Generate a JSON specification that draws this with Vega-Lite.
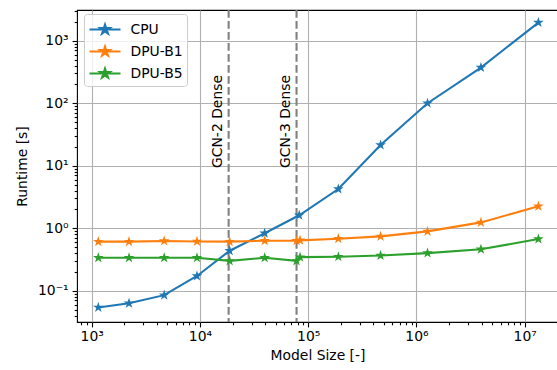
{
  "$schema": "https://vega.github.io/schema/vega-lite/v6.json",
  "width": 481,
  "height": 312,
  "autosize": {"type": "none"},
  "padding": {"left": 77, "top": 10, "right": 0, "bottom": 48},
  "background": "white",
  "config": {
    "font": "DejaVu Sans",
    "view": {"stroke": "black", "strokeWidth": 1.1},
    "axis": {
      "labelFont": "DejaVu Sans",
      "labelFontSize": 13.9,
      "labelColor": "black",
      "titleFont": "DejaVu Sans",
      "titleFontSize": 13.9,
      "titleFontWeight": "normal",
      "titleColor": "black",
      "domain": false,
      "tickColor": "black",
      "tickWidth": 1.1,
      "tickSize": 4.9,
      "gridColor": "#b0b0b0",
      "gridWidth": 1.1
    }
  },
  "datasets": {
    "runs": [
      {"device": "CPU", "model": 1150, "rt": 0.054},
      {"device": "CPU", "model": 2210, "rt": 0.063},
      {"device": "CPU", "model": 4670, "rt": 0.085},
      {"device": "CPU", "model": 9380, "rt": 0.172},
      {"device": "CPU", "model": 18800, "rt": 0.436},
      {"device": "CPU", "model": 39600, "rt": 0.83},
      {"device": "CPU", "model": 82600, "rt": 1.61},
      {"device": "CPU", "model": 189700, "rt": 4.24},
      {"device": "CPU", "model": 466000, "rt": 21.4},
      {"device": "CPU", "model": 1265000, "rt": 100},
      {"device": "CPU", "model": 3940000, "rt": 372},
      {"device": "CPU", "model": 13370000, "rt": 1950},
      {"device": "DPU-B1", "model": 1150, "rt": 0.61},
      {"device": "DPU-B1", "model": 2210, "rt": 0.61},
      {"device": "DPU-B1", "model": 4670, "rt": 0.625},
      {"device": "DPU-B1", "model": 9380, "rt": 0.615},
      {"device": "DPU-B1", "model": 18800, "rt": 0.61},
      {"device": "DPU-B1", "model": 39600, "rt": 0.63},
      {"device": "DPU-B1", "model": 78000, "rt": 0.63},
      {"device": "DPU-B1", "model": 84000, "rt": 0.64},
      {"device": "DPU-B1", "model": 189700, "rt": 0.68},
      {"device": "DPU-B1", "model": 466000, "rt": 0.74},
      {"device": "DPU-B1", "model": 1265000, "rt": 0.89},
      {"device": "DPU-B1", "model": 3940000, "rt": 1.24},
      {"device": "DPU-B1", "model": 13370000, "rt": 2.24},
      {"device": "DPU-B5", "model": 1150, "rt": 0.337},
      {"device": "DPU-B5", "model": 2210, "rt": 0.337},
      {"device": "DPU-B5", "model": 4670, "rt": 0.337},
      {"device": "DPU-B5", "model": 9380, "rt": 0.337},
      {"device": "DPU-B5", "model": 18800, "rt": 0.30},
      {"device": "DPU-B5", "model": 39600, "rt": 0.337},
      {"device": "DPU-B5", "model": 78000, "rt": 0.30},
      {"device": "DPU-B5", "model": 84000, "rt": 0.345},
      {"device": "DPU-B5", "model": 189700, "rt": 0.35},
      {"device": "DPU-B5", "model": 466000, "rt": 0.365},
      {"device": "DPU-B5", "model": 1265000, "rt": 0.40},
      {"device": "DPU-B5", "model": 3940000, "rt": 0.46},
      {"device": "DPU-B5", "model": 13370000, "rt": 0.67}
    ],
    "refs": [
      {"label": "GCN-2 Dense", "x": 18400, "tx": 14700, "ty": 9.2},
      {"label": "GCN-3 Dense", "x": 78000, "tx": 62400, "ty": 9.2}
    ]
  },
  "layer": [
    {
      "data": {"name": "refs"},
      "mark": {"type": "rule", "color": "#808080", "strokeWidth": 2.08, "strokeDash": [7.7, 3.3]},
      "encoding": {
        "x": {"field": "x", "type": "quantitative", "scale": {"type": "log", "domain": [731, 20300000], "nice": false},
          "axis": {
            "title": "Model Size [-]",
            "titlePadding": 5,
            "values": [800, 900, 1000, 2000, 3000, 4000, 5000, 6000, 7000, 8000, 9000, 10000, 20000, 30000, 40000, 50000, 60000, 70000, 80000, 90000, 100000, 200000, 300000, 400000, 500000, 600000, 700000, 800000, 900000, 1000000, 2000000, 3000000, 4000000, 5000000, 6000000, 7000000, 8000000, 9000000, 10000000, 20000000],
            "labelExpr": "datum.value == 1000 ? '10³' : datum.value == 10000 ? '10⁴' : datum.value == 100000 ? '10⁵' : datum.value == 1000000 ? '10⁶' : datum.value == 10000000 ? '10⁷' : ''",
            "tickDash": {"condition": {"test": "indexof([1000,10000,100000,1000000,10000000], datum.value) >= 0", "value": [10, 0]}, "value": [2.8, 10]},
            "gridOpacity": {"condition": {"test": "indexof([1000,10000,100000,1000000,10000000], datum.value) >= 0", "value": 1}, "value": 0},
            "labelPadding": 3
          }
        }
      }
    },
    {
      "data": {"name": "refs"},
      "mark": {"type": "text", "angle": 270, "align": "left", "baseline": "middle", "font": "DejaVu Sans", "fontSize": 13.9, "color": "black"},
      "encoding": {
        "x": {"field": "tx", "type": "quantitative"},
        "y": {"field": "ty", "type": "quantitative", "scale": {"type": "log", "domain": [0.0316, 3100], "nice": false},
          "axis": {
            "title": "Runtime [s]",
            "titlePadding": 8,
            "values": [0.04, 0.05, 0.06, 0.07, 0.08, 0.09, 0.1, 0.2, 0.3, 0.4, 0.5, 0.6, 0.7, 0.8, 0.9, 1, 2, 3, 4, 5, 6, 7, 8, 9, 10, 20, 30, 40, 50, 60, 70, 80, 90, 100, 200, 300, 400, 500, 600, 700, 800, 900, 1000, 2000, 3000],
            "labelExpr": "datum.value == 0.1 ? '10⁻¹' : datum.value == 1 ? '10⁰' : datum.value == 10 ? '10¹' : datum.value == 100 ? '10²' : datum.value == 1000 ? '10³' : ''",
            "tickDash": {"condition": {"test": "indexof([0.1,1,10,100,1000], datum.value) >= 0", "value": [10, 0]}, "value": [2.8, 10]},
            "gridOpacity": {"condition": {"test": "indexof([0.1,1,10,100,1000], datum.value) >= 0", "value": 1}, "value": 0},
            "labelPadding": 4
          }
        },
        "text": {"field": "label"}
      }
    },
    {
      "data": {"name": "runs"},
      "mark": {"type": "line", "strokeWidth": 2.08},
      "encoding": {
        "x": {"field": "model", "type": "quantitative"},
        "y": {"field": "rt", "type": "quantitative"},
        "color": {
          "field": "device",
          "type": "nominal",
          "scale": {"domain": ["CPU", "DPU-B1", "DPU-B5"], "range": ["#1f77b4", "#ff7f0e", "#2ca02c"]},
          "legend": {
            "title": null,
            "orient": "none",
            "legendX": 7,
            "legendY": 4,
            "padding": 4,
            "fillColor": "rgba(255,255,255,0.8)",
            "strokeColor": "#cccccc",
            "cornerRadius": 3,
            "labelFont": "DejaVu Sans",
            "labelFontSize": 13.9,
            "labelColor": "black",
            "symbolSize": 400,
            "symbolType": "M0,-0.5L0.1124,-0.1545L0.4755,-0.1545L0.1817,0.059L0.294,0.4045L0,0.191L-0.294,0.4045L-0.1817,0.059L-0.4755,-0.1545L-0.1124,-0.1545Z M-1.55,0L1.55,0",
            "symbolStrokeWidth": 2.08,
            "symbolOffset": 5.5,
            "labelOffset": 14,
            "rowPadding": 2,
            "encode": {"symbols": {"update": {"fill": {"scale": "color", "field": "value"}, "stroke": {"scale": "color", "field": "value"}, "opacity": {"value": 1}}}}
          }
        }
      }
    },
    {
      "data": {"name": "runs"},
      "mark": {"type": "point", "shape": "M0,-1L0.2245,-0.309L0.951,-0.309L0.3633,0.118L0.588,0.809L0,0.382L-0.588,0.809L-0.3633,0.118L-0.951,-0.309L-0.2245,-0.309Z", "filled": true, "opacity": 1, "size": 125},
      "encoding": {
        "x": {"field": "model", "type": "quantitative"},
        "y": {"field": "rt", "type": "quantitative"},
        "color": {"field": "device", "type": "nominal", "legend": null}
      }
    }
  ]
}
